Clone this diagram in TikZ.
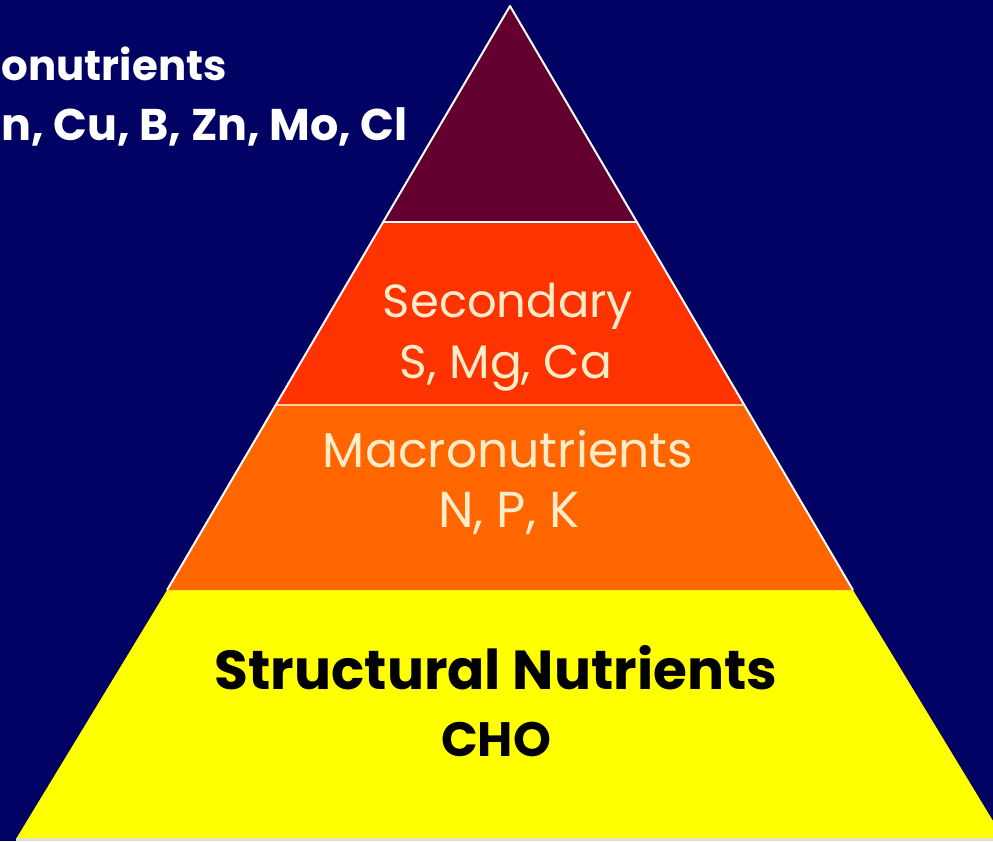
\documentclass[tikz,border=0pt]{standalone}
\usepackage{fontspec}
\setmainfont{Poppins}
\usepackage{graphicx}
\definecolor{bgnavy}{RGB}{2,2,100}
\definecolor{topband}{RGB}{100,0,48}
\definecolor{secband}{RGB}{255,51,0}
\definecolor{macband}{RGB}{255,102,0}
\definecolor{strband}{RGB}{255,255,0}
\definecolor{creamtext}{RGB}{255,236,200}
\definecolor{creamline}{RGB}{255,205,160}
\definecolor{baseline}{RGB}{225,225,205}
\tikzset{
  edgeline/.style={draw=white, line width=2pt, line join=round},
  lbl/.style={inner sep=0pt, anchor=base},
  creamlbl/.style={lbl, text=creamtext},
  darklbl/.style={lbl, text=black, font=\bfseries},
  microlbl/.style={inner sep=0pt, anchor=base east, text=white, font=\bfseries}
}
\begin{document}
\begin{tikzpicture}[x=1pt,y=-1pt]
\fill[bgnavy] (0,0) rectangle (993,841);
\useasboundingbox (0,0) rectangle (993,841);
\clip (0,0) rectangle (993,841);
% pyramid corner points
\coordinate (apex) at (510,6);
\coordinate (l1) at (383.1,222);
\coordinate (r1) at (636.9,222);
\coordinate (l2) at (275.7,405);
\coordinate (r2) at (744.3,405);
\coordinate (l3) at (167.1,590);
\coordinate (r3) at (852.9,590);
\coordinate (l4) at (16,839);
\coordinate (r4) at (1004,839);
% bands
\fill[strband] (l3) -- (r3) -- (r4) -- (l4) -- cycle;
\fill[macband] (l2) -- (r2) -- (r3) -- (l3) -- cycle;
\fill[secband] (l1) -- (r1) -- (r2) -- (l2) -- cycle;
\fill[topband] (apex) -- (r1) -- (l1) -- cycle;
% outlines
\draw[edgeline] (l3) -- (apex) -- (r3);
\draw[edgeline] (l1) -- (r1);
\draw[draw=creamline, line width=2pt] (l2) -- (r2);
\draw[draw=baseline, line width=3pt] (l4) -- (r4);
% texts
\node[microlbl] (micro1) at (227,80) {\resizebox{225pt}{!}{onutrients}};
\node[microlbl] (micro2) at (408,140) {\resizebox{406pt}{!}{n, Cu, B, Zn, Mo, Cl}};
\node[creamlbl] (sec1) at (508,317) {\resizebox{250pt}{!}{Secondary}};
\node[creamlbl] (sec2) at (506,378) {\resizebox{212pt}{!}{S, Mg, Ca}};
\node[creamlbl] (mac1) at (508,467) {\resizebox{370pt}{!}{Macronutrients}};
\node[creamlbl] (mac2) at (509,527) {\resizebox{142pt}{!}{N, P, K}};
\node[darklbl] (str1) at (496,689) {\resizebox{562pt}{!}{Structural Nutrients}};
\node[darklbl] (str2) at (496,756) {\resizebox{110pt}{!}{CHO}};
\end{tikzpicture}
\end{document}
